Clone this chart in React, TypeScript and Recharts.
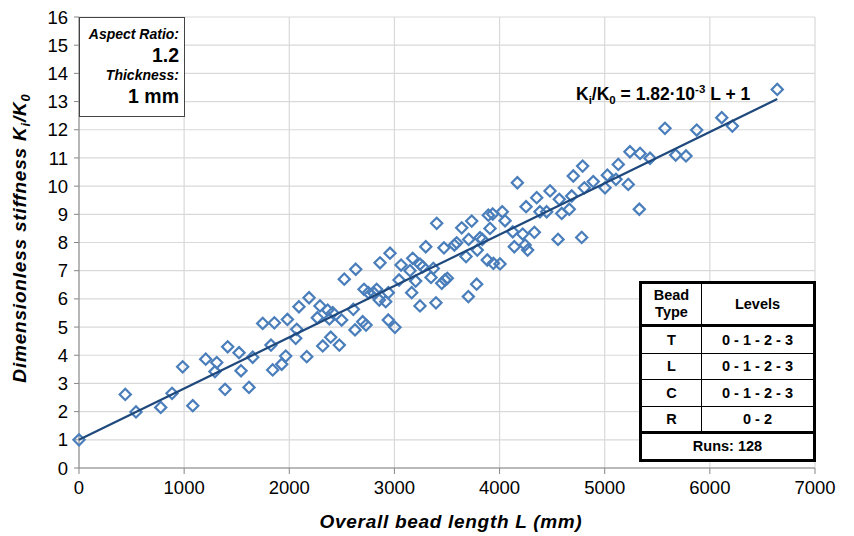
import React from 'react';
import { ScatterChart, Scatter, XAxis, YAxis, CartesianGrid, Label } from 'recharts';

const beadLength = [
  0, 440, 542, 777, 885, 986, 1082, 1205, 1310, 1293, 1414, 1389, 1522, 1541, 1617, 1652,
  1747, 1858, 1826, 1842, 1928, 1966, 1982, 2071, 2061, 2092, 2166, 2188, 2292, 2267, 2318, 2365,
  2394, 2413, 2381, 2476, 2498, 2523, 2609, 2625, 2632, 2698, 2730, 2711, 2752, 2806, 2831, 2856,
  2863, 2917, 2942, 2958, 2942, 3005, 3044, 3063, 3148, 3164, 3174, 3202, 3243, 3243, 3269, 3298,
  3348, 3370, 3395, 3402, 3450, 3471, 3481, 3503, 3570, 3592, 3640, 3681, 3706, 3703, 3735, 3782,
  3788, 3814, 3836, 3893, 3883, 3909, 3935, 3941, 4004, 4026, 4052, 4125, 4140, 4169, 4220, 4243,
  4252, 4267, 4331, 4353, 4384, 4448, 4480, 4556, 4568, 4591, 4663, 4686, 4701, 4781, 4790, 4806,
  4891, 5003, 5025, 5107, 5129, 5224, 5240, 5329, 5336, 5431, 5573, 5675, 5773, 5875, 6113, 6214,
  6641,
];
const stiffness = [
  1.0, 2.61, 1.99, 2.15, 2.65, 3.59, 2.21, 3.86, 3.74, 3.42, 4.3, 2.79, 4.09, 3.45, 2.86, 3.93,
  5.13, 5.15, 4.36, 3.48, 3.68, 3.97, 5.27, 4.92, 4.6, 5.72, 3.95, 6.04, 5.75, 5.33, 4.33, 5.6,
  4.64, 5.51, 5.29, 4.36, 5.25, 6.7, 5.63, 4.9, 7.05, 5.19, 5.07, 6.34, 6.22, 6.2, 6.34, 5.96,
  7.28, 5.9, 5.25, 7.62, 6.22, 4.99, 6.67, 7.2, 7.0, 6.22, 7.44, 6.63, 7.23, 5.75, 7.14, 7.85,
  6.76, 7.08, 5.86, 8.68, 6.55, 7.81, 6.67, 6.73, 7.91, 7.99, 8.52, 7.5, 8.11, 6.08, 8.76, 6.52,
  7.73, 8.17, 8.11, 8.97, 7.38, 8.5, 9.01, 7.26, 7.24, 9.09, 8.77, 8.38, 7.85, 10.12, 8.3, 7.91,
  9.27, 7.73, 8.36, 9.59, 9.09, 9.09, 9.83, 8.11, 9.53, 9.03, 9.18, 9.65, 10.36, 8.18, 10.71, 9.94,
  10.16, 9.94, 10.39, 10.24, 10.77, 10.06, 11.22, 9.18, 11.16, 10.99, 12.05, 11.1, 11.07, 11.99, 12.43, 12.13,
  13.43,
];
const trendLength = [0, 6641];
const trendStiffness = [1, 13.09];
const xTicks = [0, 1000, 2000, 3000, 4000, 5000, 6000, 7000];
const yTicks = [0, 1, 2, 3, 4, 5, 6, 7, 8, 9, 10, 11, 12, 13, 14, 15, 16];
const beadTypes = ['T', 'L', 'C', 'R'];
const beadLevels = ['0 - 1 - 2 - 3', '0 - 1 - 2 - 3', '0 - 1 - 2 - 3', '0 - 2'];

const points = beadLength.map((l, i) => ({ l, k: stiffness[i] }));
const trend = trendLength.map((l, i) => ({ l, k: trendStiffness[i] }));

const FONT = '"Liberation Sans", Arial, Helvetica, sans-serif';

const Diamond = (props: any) => {
  const { cx, cy } = props;
  if (cx == null || cy == null) return <g />;
  const r = 5.6;
  return (
    <path
      d={`M${cx},${cy - r}L${cx + r},${cy}L${cx},${cy + r}L${cx - r},${cy}Z`}
      fill="none"
      stroke="#4a7ebb"
      strokeWidth={2.2}
    />
  );
};

const NoShape = () => <g />;

const cell: React.CSSProperties = {
  borderRight: '1.5px solid #000',
  textAlign: 'center',
  fontWeight: 'bold',
  fontSize: 14.5,
};

export default function App() {
  return (
    <div style={{ position: 'absolute', left: 0, top: 0, width: 854, height: 536, background: '#fff', fontFamily: FONT }}>
      <ScatterChart width={854} height={536} margin={{ top: 17, right: 39, bottom: 0, left: 0 }}>
        <CartesianGrid stroke="#d9d9d9" strokeWidth={1.2} />
        <XAxis
          type="number"
          dataKey="l"
          domain={[0, 7000]}
          ticks={xTicks}
          interval={0}
          height={68}
          tickSize={6}
          tickMargin={7}
          stroke="#868686"
          tick={{ fill: '#000', fontSize: 18.5, fontFamily: FONT }}
        >
          <Label
            content={() => (
              <text x={451} y={528} textAnchor="middle" fontFamily={FONT} fontSize={19} letterSpacing={0.7} fontWeight="bold" fontStyle="italic" fill="#000">
                Overall bead length L (mm)
              </text>
            )}
          />
        </XAxis>
        <YAxis
          type="number"
          dataKey="k"
          domain={[0, 16]}
          ticks={yTicks}
          interval={0}
          width={79}
          tickSize={5}
          tickMargin={6}
          stroke="#868686"
          tick={{ fill: '#000', fontSize: 18.5, fontFamily: FONT }}
        >
          <Label
            content={() => (
              <text
                x={26}
                y={238}
                transform="rotate(-90, 26, 238)"
                textAnchor="middle"
                fontFamily={FONT}
                fontSize={19}
                letterSpacing={0.8}
                fontWeight="bold"
                fontStyle="italic"
                fill="#000"
              >
                <tspan>Dimensionless stiffness K</tspan>
                <tspan fontSize={13} dy={4}>i</tspan>
                <tspan dy={-4}>/K</tspan>
                <tspan fontSize={13} dy={4}>0</tspan>
              </text>
            )}
          />
        </YAxis>
        <Scatter data={points} shape={Diamond} isAnimationActive={false} />
        <Scatter
          data={trend}
          shape={NoShape}
          line={{ stroke: '#1f497d', strokeWidth: 2.2 }}
          isAnimationActive={false}
        />
      </ScatterChart>

      <div
        style={{
          position: 'absolute',
          left: 79,
          top: 17,
          width: 106,
          height: 100,
          border: '1px solid #444',
          background: '#fff',
          boxSizing: 'border-box',
          textAlign: 'right',
          paddingRight: 5,
          color: '#000',
          fontWeight: 'bold',
          lineHeight: '20.5px',
          paddingTop: 6,
        }}
      >
        <div style={{ fontStyle: 'italic', fontSize: 14 }}>Aspect Ratio:</div>
        <div style={{ fontSize: 19.5 }}>1.2</div>
        <div style={{ fontStyle: 'italic', fontSize: 14 }}>Thickness:</div>
        <div style={{ fontSize: 19.5 }}>1 mm</div>
      </div>

      <div
        style={{
          position: 'absolute',
          left: 576,
          top: 79,
          whiteSpace: 'nowrap',
          fontWeight: 'bold',
          fontSize: 17.5,
          color: '#000',
          lineHeight: '20px',
        }}
      >
        K<sub style={{ fontSize: 11.5 }}>i</sub>/K<sub style={{ fontSize: 11.5 }}>0</sub> = 1.82·10
        <sup style={{ fontSize: 11.5 }}>-3</sup> L + 1
      </div>

      <div
        style={{
          position: 'absolute',
          left: 639,
          top: 281,
          width: 177,
          height: 181,
          border: '3px solid #000',
          boxSizing: 'border-box',
          background: '#fff',
          color: '#000',
          display: 'flex',
          flexDirection: 'column',
        }}
      >
        <div style={{ display: 'flex', height: 43, borderBottom: '3px solid #000', boxSizing: 'border-box' }}>
          <div style={{ ...cell, width: 59, display: 'flex', alignItems: 'center', justifyContent: 'center', lineHeight: '17px' }}>
            Bead<br />Type
          </div>
          <div style={{ ...cell, borderRight: 'none', flex: 1, display: 'flex', alignItems: 'center', justifyContent: 'center' }}>
            Levels
          </div>
        </div>
        {beadTypes.map((t, i) => (
          <div
            key={t}
            style={{
              display: 'flex',
              height: i === 3 ? 27 : 26.5,
              borderBottom: i === 3 ? '3px solid #000' : '1.5px solid #000',
              boxSizing: 'border-box',
            }}
          >
            <div style={{ ...cell, width: 59, display: 'flex', alignItems: 'center', justifyContent: 'center' }}>{t}</div>
            <div style={{ ...cell, borderRight: 'none', flex: 1, display: 'flex', alignItems: 'center', justifyContent: 'center' }}>
              {beadLevels[i]}
            </div>
          </div>
        ))}
        <div style={{ ...cell, borderRight: 'none', flex: 1, display: 'flex', alignItems: 'center', justifyContent: 'center' }}>
          Runs: 128
        </div>
      </div>
    </div>
  );
}
